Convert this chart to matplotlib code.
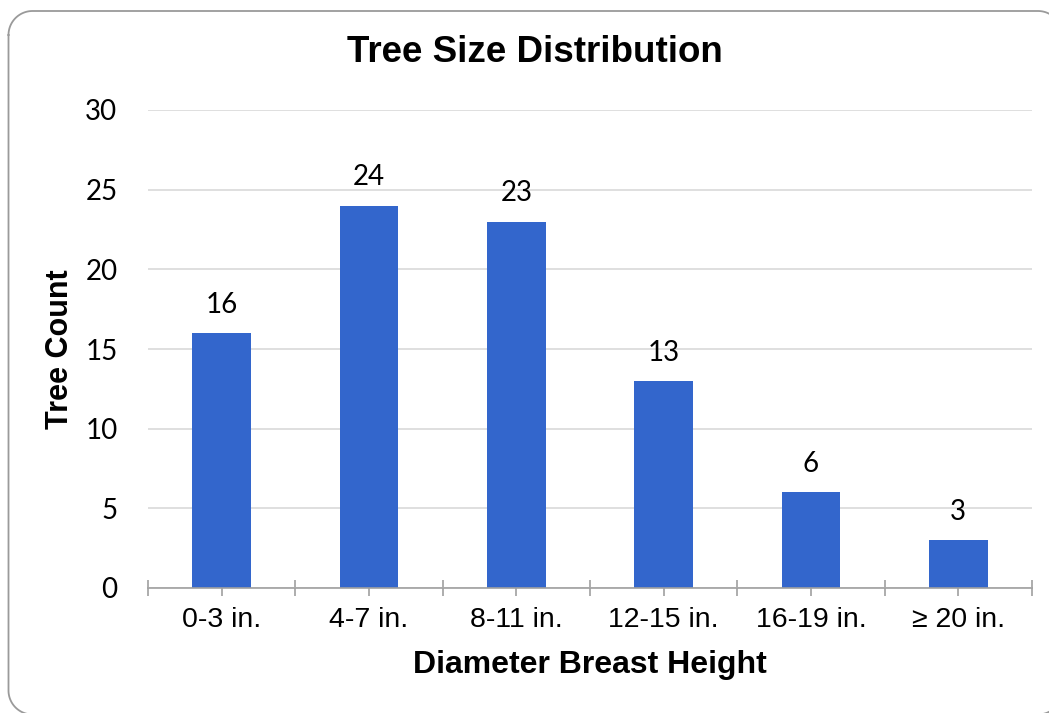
import matplotlib
matplotlib.use("Agg")
import matplotlib.pyplot as plt
import numpy as np

categories = ["0-3 in.", "4-7 in.", "8-11 in.", "12-15 in.", "16-19 in.", "\u2265 20 in."]
counts = [16, 24, 23, 13, 6, 3]
yticks = [0, 5, 10, 15, 20, 25, 30]

W, H = 1049, 713
fig = plt.figure(figsize=(W / 100, H / 100), dpi=100)

# rounded chart-area border (pixel coords, y down); right/bottom edges run off the canvas
bg = fig.add_axes([0, 0, 1, 1])
bg.set_xlim(0, W)
bg.set_ylim(H, 0)
bg.axis("off")
bx0, bx1, by0, by1, r = 8.5, 1062.0, 11.0, 714.5, 24.0
t = np.linspace(0, np.pi / 2, 30)
corner_tl = (bx0 + r - r * np.cos(t), by0 + r - r * np.sin(t))
corner_tr = (bx1 - r + r * np.sin(t), by0 + r - r * np.cos(t))
corner_br = (bx1 - r + r * np.cos(t), by1 - r + r * np.sin(t))
corner_bl = (bx0 + r - r * np.sin(t), by1 - r + r * np.cos(t))
bxs = np.concatenate([corner_tl[0], corner_tr[0], corner_br[0], corner_bl[0], corner_tl[0][:1]])
bys = np.concatenate([corner_tl[1], corner_tr[1], corner_br[1], corner_bl[1], corner_tl[1][:1]])
bg.plot(bxs, bys, color="#9a9a9a", linewidth=1.3, solid_joinstyle="round")

ax = fig.add_axes([148 / W, 1 - 588 / H, (1032 - 148) / W, (588 - 110) / H])
ax.patch.set_alpha(0)
x = list(range(len(categories)))
ax.bar(x, counts, width=0.4, color="#3366CC", zorder=2)
ax.set_xlim(-0.5, len(categories) - 0.5)
ax.set_ylim(0, 30)

ax.set_yticks(yticks)
ax.set_yticklabels([str(t) for t in yticks], fontfamily="Lato", fontsize=20)
ax.tick_params(axis="y", length=0, pad=22)
ax.yaxis.grid(True, color="#d9d9d9", linewidth=1.2, zorder=0)
ax.set_axisbelow(True)

# boundary ticks (major, no labels), center ticks (minor, labels)
ax.set_xticks([i - 0.5 for i in range(len(categories) + 1)])
ax.set_xticklabels([""] * (len(categories) + 1))
ax.set_xticks(x, minor=True)
ax.set_xticklabels(categories, minor=True, fontfamily="Liberation Sans", fontsize=20.5)
ax.tick_params(axis="x", which="both", direction="inout", length=11.5, width=1.2,
               color="#a0a0a0", pad=8)

for s in ["top", "right", "left"]:
    ax.spines[s].set_visible(False)
ax.spines["bottom"].set_color("#a0a0a0")
ax.spines["bottom"].set_linewidth(1.2)
ax.spines["bottom"].set_zorder(3)

for xi, v in zip(x, counts):
    ax.annotate(str(v), (xi, v), xytext=(0, 11), textcoords="offset points",
                ha="center", va="bottom", fontfamily="Lato", fontsize=20)

fig.text(535 / W, 1 - 53 / H, "Tree Size Distribution", ha="center", va="center",
         fontfamily="Liberation Sans", fontweight="bold", fontsize=26.5)
fig.text(590 / W, 1 - 665 / H, "Diameter Breast Height", ha="center", va="center",
         fontfamily="Liberation Sans", fontweight="bold", fontsize=23)
fig.text(60 / W, 1 - 349 / H, "Tree Count", ha="center", va="center", rotation=90,
         fontfamily="Liberation Sans", fontweight="bold", fontsize=22)

fig.savefig("out.png", dpi=100)
